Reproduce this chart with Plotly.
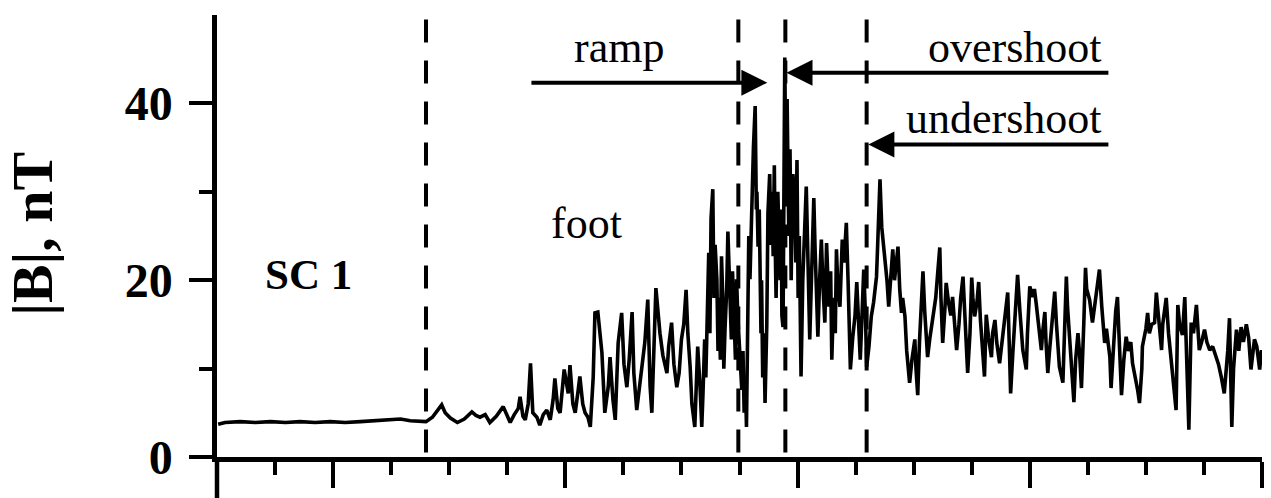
import plotly.graph_objects as go

# ---------------- data (time in minor-tick units, |B| in nT) ----------------
t_up = [0.02, 0.14, 0.40, 0.66, 0.92, 1.18, 1.43, 1.69, 1.95, 2.21, 2.47, 2.73, 2.98, 3.16, 3.33, 3.50, 3.60]
b_up = [3.7, 3.9, 4.0, 3.9, 4.0, 3.9, 4.0, 3.9, 4.0, 3.9, 4.0, 4.1, 4.2, 4.3, 4.1, 4.0, 4.0]

t_foot = [3.71, 3.81, 3.87, 3.93, 4.02, 4.14, 4.26, 4.39, 4.46, 4.53, 4.62, 4.70, 4.81, 4.93, 5.00,
          5.05, 5.12, 5.19, 5.22, 5.27, 5.31, 5.36, 5.40, 5.44, 5.51, 5.56, 5.62, 5.68, 5.74, 5.79,
          5.82, 5.87, 5.91, 5.98, 6.05, 6.08, 6.13, 6.17, 6.22, 6.25, 6.30, 6.34, 6.39, 6.43, 6.48,
          6.51, 6.56, 6.63, 6.68, 6.74, 6.77, 6.82, 6.86, 6.91, 6.97, 7.01, 7.06, 7.10, 7.15, 7.18,
          7.23, 7.27, 7.31, 7.37, 7.42, 7.46, 7.49, 7.53, 7.56, 7.63, 7.68, 7.75, 7.78, 7.83, 7.87,
          7.92, 7.96, 8.00, 8.04, 8.08, 8.11, 8.15, 8.18, 8.23, 8.28, 8.32, 8.35, 8.37, 8.40, 8.42,
          8.44, 8.47, 8.49, 8.51, 8.54, 8.56, 8.58, 8.61, 8.63, 8.65, 8.67, 8.69, 8.71, 8.73, 8.75,
          8.78, 8.80, 8.83, 8.86, 8.88, 8.90, 8.93, 8.95, 8.97]
b_foot = [4.5, 5.3, 5.9, 5.0, 4.4, 3.9, 4.3, 5.1, 4.7, 4.5, 4.8, 3.9, 4.6, 5.7, 4.5,
          3.9, 4.8, 5.5, 6.8, 4.6, 4.2, 6.0, 10.6, 5.0, 4.5, 3.6, 4.8, 5.3, 4.2, 6.5,
          8.9, 5.5, 5.0, 9.9, 7.2, 10.4, 6.0, 5.0, 7.5, 9.1, 6.0, 5.0, 4.5, 3.4, 9.0,
          16.3, 16.4, 11.8, 5.0, 8.0, 11.3, 6.5, 4.2, 12.9, 16.3, 10.5, 7.9, 11.0, 16.4, 9.5,
          5.3, 7.5, 9.5, 13.0, 17.8, 8.0, 5.0, 12.0, 19.1, 14.0, 11.5, 9.5, 12.5, 15.2, 10.5,
          7.9, 9.5, 13.3, 15.0, 18.9, 14.0, 10.2, 6.0, 3.4, 12.5, 8.0, 3.4, 7.0, 13.3, 9.0,
          17.0, 23.1, 14.0, 27.0, 30.3, 18.0, 24.0, 20.1, 12.0, 18.0, 11.0, 22.7, 18.5, 10.0, 14.4,
          19.0, 25.5, 20.0, 13.3, 21.0, 16.0, 11.0, 20.1, 16.0]

t_ramp = [9.04, 9.06, 9.08, 9.10, 9.12, 9.14, 9.16, 9.18, 9.21, 9.24, 9.27, 9.29, 9.30, 9.32, 9.34,
          9.37, 9.38, 9.40, 9.42, 9.44, 9.47, 9.49, 9.52, 9.54, 9.56, 9.58, 9.60, 9.61, 9.63, 9.66,
          9.68, 9.70, 9.72, 9.73, 9.75, 9.78, 9.80, 9.82, 9.83, 9.85, 9.87, 9.89, 9.90, 9.92, 9.95,
          9.97, 9.99, 10.01, 10.03, 10.06, 10.09, 10.12, 10.15, 10.18, 10.21, 10.23, 10.25, 10.28, 10.30, 10.32,
          10.35, 10.38, 10.41, 10.44, 10.47, 10.50, 10.52, 10.54, 10.57, 10.59, 10.62, 10.65, 10.67, 10.69, 10.73,
          10.75, 10.77, 10.80, 10.84, 10.87, 10.89, 10.91, 10.95, 10.99, 11.02, 11.06, 11.08, 11.11, 11.14, 11.17,
          11.19]
b_ramp = [7.6, 12.0, 5.0, 9.0, 3.4, 12.0, 25.0, 20.1, 30.0, 35.0, 39.7, 28.0, 30.0, 23.8, 28.0,
          14.0, 20.0, 9.0, 14.0, 6.1, 15.0, 27.6, 32.0, 24.0, 30.0, 22.7, 33.0, 26.0, 18.0, 30.0,
          24.0, 20.0, 28.0, 16.0, 14.7, 45.2, 30.0, 40.5, 35.0, 25.0, 34.8, 20.0, 25.0, 32.0, 29.1,
          22.0, 33.6, 18.0, 25.0, 9.1, 20.0, 26.0, 30.6, 22.0, 13.3, 18.0, 22.0, 29.3, 24.0, 20.0,
          13.6, 20.0, 24.6, 19.0, 15.2, 24.2, 20.0, 17.0, 21.0, 11.0, 18.0, 14.0, 23.5, 20.0, 17.0,
          21.0, 24.6, 22.0, 26.5, 20.0, 14.0, 9.9, 13.5, 16.0, 19.8, 15.0, 11.0, 16.0, 21.2, 16.0,
          10.2]

t_down = [11.23, 11.27, 11.31, 11.36, 11.38, 11.42, 11.45, 11.50, 11.54, 11.57, 11.61, 11.64, 11.67, 11.73, 11.76,
          11.79, 11.81, 11.85, 11.88, 11.93, 11.97, 12.02, 12.04, 12.07, 12.10, 12.16, 12.19, 12.24, 12.28, 12.33,
          12.38, 12.41, 12.45, 12.47, 12.50, 12.54, 12.56, 12.60, 12.64, 12.67, 12.71, 12.74, 12.78, 12.81, 12.85,
          12.88, 12.91, 12.93, 12.97, 13.00, 13.02, 13.05, 13.09, 13.12, 13.15, 13.19, 13.22, 13.25, 13.29, 13.34,
          13.36, 13.40, 13.43, 13.48, 13.53, 13.57, 13.62, 13.65, 13.67, 13.71, 13.74, 13.79, 13.83, 13.88, 13.91,
          13.94, 13.96, 14.00, 14.05, 14.08, 14.11, 14.15, 14.20, 14.22, 14.26, 14.28, 14.31, 14.34, 14.38, 14.43,
          14.46, 14.49, 14.51, 14.57, 14.60, 14.63, 14.65, 14.69, 14.72, 14.76, 14.79, 14.83, 14.86, 14.89, 14.93,
          14.96, 14.98, 15.03, 15.08, 15.12, 15.15, 15.20, 15.24, 15.29, 15.32, 15.38, 15.40, 15.44, 15.48, 15.51,
          15.55, 15.58, 15.62, 15.66, 15.70, 15.74, 15.77, 15.82, 15.86, 15.89, 15.93, 15.94, 16.00, 16.03, 16.06,
          16.10, 16.15, 16.18, 16.22, 16.27, 16.29, 16.32, 16.35, 16.39, 16.44, 16.48, 16.52, 16.55, 16.58, 16.63,
          16.67, 16.70, 16.74, 16.78, 16.82, 16.87, 16.89, 16.92, 16.96, 17.01, 17.05, 17.10, 17.15, 17.21, 17.25,
          17.30, 17.35, 17.41, 17.44, 17.48, 17.51, 17.56, 17.60, 17.64, 17.68, 17.73, 17.77, 17.81, 17.84, 17.87,
          17.91, 17.94, 17.96, 17.99]
b_down = [12.5, 15.9, 17.5, 20.4, 24.0, 31.4, 26.0, 22.7, 20.0, 17.0, 21.0, 23.5, 20.0, 23.8, 19.0,
          16.3, 18.0, 15.9, 12.0, 8.4, 11.0, 13.3, 10.0, 7.0, 13.0, 21.0, 16.5, 11.3, 13.5, 15.5,
          18.0, 20.5, 23.7, 18.0, 12.9, 17.0, 19.7, 17.5, 16.0, 18.1, 14.5, 12.1, 15.0, 18.0, 20.4,
          16.0, 12.0, 9.5, 14.0, 20.3, 18.0, 15.9, 17.5, 19.8, 15.5, 12.0, 9.1, 16.1, 13.5, 11.3,
          14.0, 15.5, 13.0, 10.6, 13.5, 15.5, 18.6, 12.0, 7.2, 12.0, 15.9, 20.6, 16.5, 12.1, 11.0,
          9.9, 14.0, 19.3, 18.1, 19.0, 17.4, 15.0, 12.1, 14.0, 16.4, 13.0, 9.5, 12.0, 15.5, 18.7,
          15.0, 12.0, 10.2, 8.4, 14.0, 20.4, 17.0, 13.3, 10.0, 6.2, 11.0, 14.0, 11.5, 7.8, 15.0,
          21.4, 19.0, 17.8, 15.2, 17.0, 19.0, 21.2, 17.0, 12.9, 14.5, 11.3, 7.8, 13.0, 16.5, 18.1,
          12.0, 7.0, 11.0, 13.6, 12.0, 13.0, 10.6, 9.0, 7.5, 6.1, 10.0, 12.5, 14.5, 16.3, 14.0,
          15.0, 15.2, 18.6, 15.5, 12.1, 15.0, 16.5, 18.0, 14.0, 10.2, 8.0, 5.3, 17.2, 15.0, 13.8,
          18.1, 10.0, 3.1, 15.2, 14.0, 17.2, 14.5, 12.1, 13.0, 14.4, 13.0, 12.1, 12.5, 11.3, 10.5,
          9.0, 7.2, 12.0, 15.7, 3.4, 10.0, 14.4, 12.0, 14.7, 13.0, 15.0, 13.5, 9.9, 12.0, 13.3,
          12.5, 11.0, 9.9, 12.1]

# region boundaries (dashed lines), time units
boundaries = [3.60, 8.98, 9.79, 11.19]

# axis ticks
x_major = [2, 6, 10, 14, 18]
x_minor = [1, 3, 4, 5, 7, 8, 9, 11, 12, 13, 15, 16, 17]
y_major = [0, 20, 40]
y_minor = [10, 30]

# labels: (text, x, y)
labels = [("foot", 6.37, 26.4), ("ramp", 6.93, 46.3)]
right_labels = [("overshoot", 15.27, 46.3), ("undershoot", 15.27, 38.3)]
# arrows: (tail x, head x, y)
arrows = [(5.39, 9.48, 42.35), (15.38, 9.81, 43.48), (15.38, 11.22, 35.35)]

t_all = t_up + t_foot + t_ramp + t_down
b_all = b_up + b_foot + b_ramp + b_down

FONT = "Liberation Serif"

fig = go.Figure()
fig.add_trace(go.Scatter(x=t_all, y=b_all, mode="lines",
                         line=dict(color="black", width=3.6), hoverinfo="skip",
                         showlegend=False))

for xb in boundaries:
    fig.add_shape(type="line", xref="x", yref="y", x0=xb, x1=xb, y0=49.5, y1=0.45,
                  line=dict(color="black", width=4, dash="23px,18px"))

# y-axis extension below the x axis
fig.add_shape(type="line", xref="paper", yref="paper", x0=0, x1=0, y0=0, y1=-0.095,
              line=dict(color="black", width=4.5))

for txt, xx, yy in labels:
    fig.add_annotation(x=xx, y=yy, xref="x", yref="y", text=txt, showarrow=False,
                       xanchor="center", yanchor="middle",
                       font=dict(family=FONT, size=44, color="black"))
for txt, xx, yy in right_labels:
    fig.add_annotation(x=xx, y=yy, xref="x", yref="y", text=txt, showarrow=False,
                       xanchor="right", yanchor="middle",
                       font=dict(family=FONT, size=44, color="black"))

fig.add_annotation(x=1.57, y=20.6, xref="x", yref="y", text="SC 1", showarrow=False,
                   xanchor="center", yanchor="middle",
                   font=dict(family=FONT, size=43, color="black", weight="bold"))

for tail, head, yy in arrows:
    fig.add_annotation(x=head, y=yy, ax=tail, ay=yy, xref="x", yref="y", axref="x", ayref="y",
                       text="", showarrow=True, arrowhead=2, arrowwidth=4, arrowsize=1.3,
                       arrowcolor="black", standoff=0)

fig.add_annotation(x=-0.176, y=0.505, xref="paper", yref="paper", text="|B|, nT",
                   showarrow=False, textangle=-90, xanchor="center", yanchor="middle",
                   font=dict(family=FONT, size=58, color="black", weight="bold"))

fig.update_layout(
    width=1271, height=498,
    margin=dict(l=217, r=9, t=15, b=41),
    paper_bgcolor="white", plot_bgcolor="white",
    showlegend=False,
    xaxis=dict(range=[0, 18], showline=True, linecolor="black", linewidth=4.5,
               showgrid=False, zeroline=False, showticklabels=False,
               ticks="outside", tickmode="array", tickvals=x_major, ticklen=26,
               tickwidth=4, tickcolor="black",
               minor=dict(ticks="outside", tickmode="array", tickvals=x_minor,
                          ticklen=13, tickwidth=4, tickcolor="black", showgrid=False)),
    yaxis=dict(range=[0, 50], showline=True, linecolor="black", linewidth=4.5,
               showgrid=False, zeroline=False,
               ticks="outside", tickmode="array", tickvals=y_major, ticklen=23,
               tickwidth=4, tickcolor="black", ticklabelstandoff=7,
               tickfont=dict(family=FONT, size=48, color="black", weight="bold"),
               minor=dict(ticks="outside", tickmode="array", tickvals=y_minor,
                          ticklen=13, tickwidth=4, tickcolor="black", showgrid=False)),
)

fig.write_html("out.html")
